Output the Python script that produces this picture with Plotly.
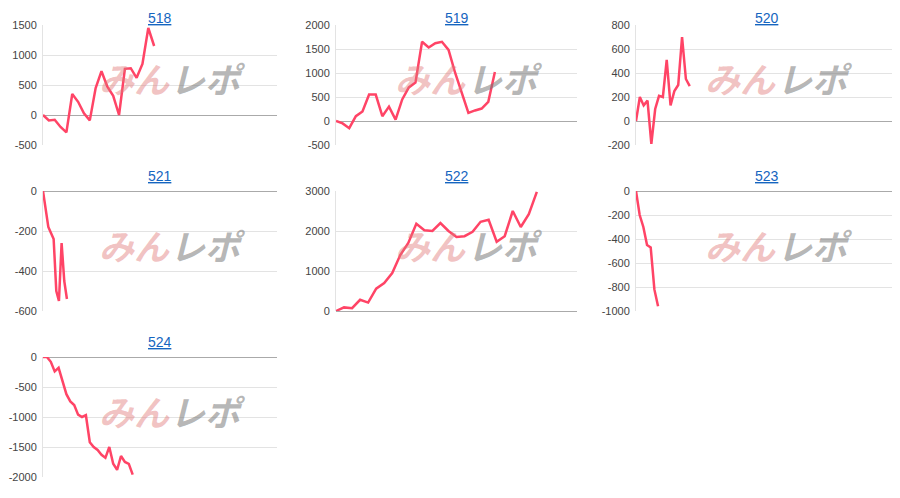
import plotly.graph_objects as go

names = ["518", "519", "520", "521", "522", "523", "524"]

v518 = [0, -90, -80, -200, -290, 350, 220, 30, -90, 450, 730, 470, 320, 0, 770, 780, 620, 850, 1450, 1150]
v519 = [0, -50, -150, 100, 200, 550, 550, 100, 300, 30, 450, 700, 800, 1650, 1530, 1620, 1650, 1480,
        1000, 600, 170, 220, 260, 400, 1020]
v520 = [0, 200, 130, 170, -190, 100, 210, 200, 510, 130, 250, 300, 700, 350, 290]
v521 = [0, -100, -180, -210, -240, -500, -550, -260, -450, -540]
v522 = [0, 90, 70, 280, 210, 560, 700, 950, 1400, 1700, 2180, 2020, 2000, 2200, 2000, 1850, 1870,
        1980, 2230, 2280, 1730, 1870, 2500, 2100, 2420, 2980]
v523 = [0, -200, -300, -450, -470, -820, -960]
v524 = [0, 0, -80, -240, -180, -400, -620, -740, -800, -960, -1000, -970, -1420, -1500, -1550, -1630,
        -1680, -1500, -1780, -1880, -1650, -1750, -1780, -1960]
series = [v518, v519, v520, v521, v522, v523, v524]

y_ranges = [(-500, 1500, 500), (-500, 2000, 500), (-200, 800, 200), (-600, 0, 200),
            (0, 3000, 1000), (-1000, 0, 200), (-2000, 0, 500)]
x_spans = [40, 36.4, 68, 88, 30, 71, 60]

# page body adds an 8px margin, so positions are offset by it
off = 8
cols = [(43, 277), (336, 577), (636, 897)]
rows = [(25, 145), (191, 311), (357, 477)]
W, H = 900, 498

fig = go.Figure()
for i, vals in enumerate(series):
    r, c = divmod(i, 3)
    n = i + 1
    xa = "x" if n == 1 else f"x{n}"
    ya = "y" if n == 1 else f"y{n}"
    fig.add_trace(go.Scatter(x=list(range(len(vals))), y=vals, mode="lines",
                             line=dict(color="#ff4466", width=2.5), xaxis=xa, yaxis=ya,
                             showlegend=False, hoverinfo="skip"))
    lo, hi, dt = y_ranges[i]
    tv = list(range(lo, hi + 1, dt))
    x0, x1 = cols[c][0] - off, cols[c][1] - off
    yt, yb = rows[r][0] - off, rows[r][1] - off
    xkey = "xaxis" if n == 1 else f"xaxis{n}"
    ykey = "yaxis" if n == 1 else f"yaxis{n}"
    fig.update_layout({
        xkey: dict(domain=[x0 / W, x1 / W], range=[0, x_spans[i]], showticklabels=False,
                   showgrid=False, zeroline=False, anchor=ya, showline=False),
        ykey: dict(domain=[1 - yb / H, 1 - yt / H], range=[lo, hi], tickvals=tv,
                   ticktext=[str(v) for v in tv], anchor=xa,
                   gridcolor="#e3e3e3", zeroline=True, zerolinecolor="#aaaaaa", zerolinewidth=1,
                   showline=True, linecolor="#e3e3e3", ticks="", automargin=False,
                   ticklabelstandoff=3,
                   tickfont=dict(size=11, color="#444444", family="Arial")),
    })
    cx = (x0 + x1) / 2
    fig.add_annotation(text=f"<u>{names[i]}</u>", x=cx / W, y=1 - max(yt - 25, 0) / H, xref="paper", yref="paper",
                       xanchor="center", yanchor="top", showarrow=False,
                       font=dict(size=14, color="#1565c0", family="Arial"))
    # watermark
    fig.add_annotation(text="<b><i>みん</i></b>", x=(cx - 26) / W, y=1 - (yt + 53) / H,
                       xref="paper", yref="paper", xanchor="center", yanchor="middle", showarrow=False,
                       font=dict(size=35, color="rgba(225,120,120,0.45)", family="Noto Sans CJK JP"))
    fig.add_annotation(text="<b><i>レポ</i></b>", x=(cx + 48) / W, y=1 - (yt + 53) / H,
                       xref="paper", yref="paper", xanchor="center", yanchor="middle", showarrow=False,
                       font=dict(size=35, color="rgba(120,120,120,0.55)", family="Noto Sans CJK JP"))

fig.update_layout(width=W, height=H, margin=dict(l=0, r=0, t=0, b=0, autoexpand=False),
                  plot_bgcolor="white", paper_bgcolor="white")
fig.write_html("out.html")
